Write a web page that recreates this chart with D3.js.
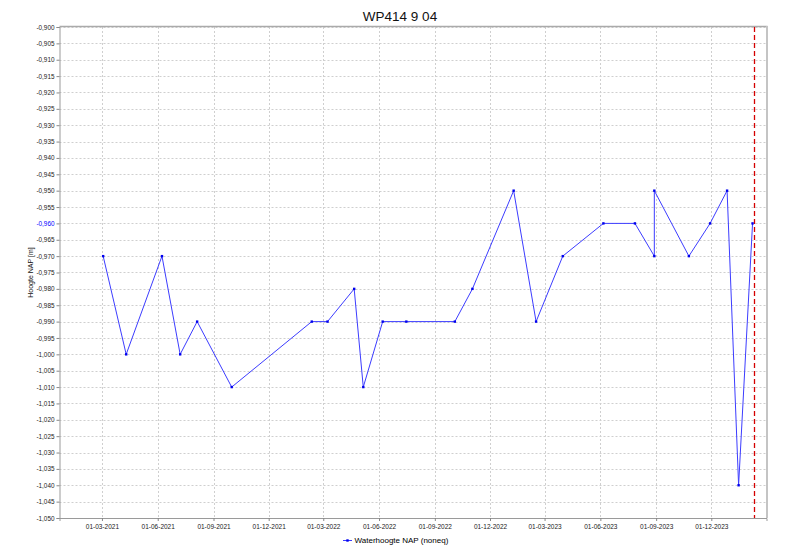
<!DOCTYPE html>
<html><head><meta charset="utf-8">
<script src="https://cdn.jsdelivr.net/npm/d3@7"></script>
<style>body{margin:0;background:#fff}svg{display:block}text{font-family:"Liberation Sans",Arial,sans-serif}</style>
</head><body>
<script>
const dates = ["2021-03-03","2021-04-10","2021-06-08","2021-07-08","2021-08-05","2021-10-01","2022-02-10","2022-03-08","2022-04-21","2022-05-06","2022-06-07","2022-07-16","2022-10-04","2022-11-02","2023-01-09","2023-02-15","2023-03-31","2023-06-06","2023-07-28","2023-08-29","2023-08-29","2023-10-25","2023-11-29","2023-12-27","2024-01-15","2024-02-07"];
const values = [-0.970,-1.000,-0.970,-1.000,-0.990,-1.010,-0.990,-0.990,-0.980,-1.010,-0.990,-0.990,-0.990,-0.980,-0.950,-0.990,-0.970,-0.960,-0.960,-0.970,-0.950,-0.970,-0.960,-0.950,-1.040,-0.960];
const xTickDates = ["2021-03-01","2021-06-01","2021-09-01","2021-12-01","2022-03-01","2022-06-01","2022-09-01","2022-12-01","2023-03-01","2023-06-01","2023-09-01","2023-12-01"];
const xTickLabels = ["01-03-2021","01-06-2021","01-09-2021","01-12-2021","01-03-2022","01-06-2022","01-09-2022","01-12-2022","01-03-2023","01-06-2023","01-09-2023","01-12-2023"];
const yDomain = [-1.050, -0.900];
const xDomain = ["2020-12-21","2024-03-01"];
const markerDate = "2024-02-09";
const highlightY = -0.960;
const title = "WP414 9 04";
const yLabel = "Hoogte NAP [m]";
const seriesName = "Waterhoogte NAP (noneq)";

const W = 811, H = 547;
const L = 59.5, R = 766.5, T = 27, B = 518;
const parse = d3.utcParse("%Y-%m-%d");
const svg = d3.select("body").append("svg").attr("width", W).attr("height", H);

const x = d3.scaleUtc().domain(xDomain.map(parse)).range([L, R]);
const y = d3.scaleLinear().domain(yDomain).range([B, T]);

const yTicks = d3.range(0, 31).map(i => +(yDomain[0] + i * 0.005).toFixed(3));
const fmt = v => d3.format(".3f")(v).replace("−", "-").replace(".", ",");

// grid
svg.append("g").selectAll("line").data(yTicks.slice(1)).join("line")
  .attr("x1", L).attr("x2", R).attr("y1", d => Math.round(y(d)) + 0.5).attr("y2", d => Math.round(y(d)) + 0.5)
  .attr("stroke", "#cfcfcf").attr("stroke-dasharray", "2,2");
svg.append("g").selectAll("line").data(xTickDates).join("line")
  .attr("x1", d => Math.round(x(parse(d))) + 0.5).attr("x2", d => Math.round(x(parse(d))) + 0.5)
  .attr("y1", T).attr("y2", B)
  .attr("stroke", "#cfcfcf").attr("stroke-dasharray", "2,2");

// y axis
const yAxis = d3.axisLeft(y).tickValues(yTicks).tickFormat(fmt).tickSize(3).tickPadding(2);
const gy = svg.append("g").attr("transform", `translate(${L},0)`).call(yAxis);
gy.select(".domain").attr("stroke", "#9a9a9a");
gy.selectAll(".tick line").attr("stroke", "#888");
gy.selectAll("text").attr("font-size", "6.4px").attr("fill", d => Math.abs(d - highlightY) < 1e-6 ? "#0000ff" : "#222");

// x axis
const xAxis = d3.axisBottom(x).tickValues(xTickDates.map(parse)).tickFormat((d, i) => xTickLabels[i]).tickSize(3).tickPadding(3);
const gx = svg.append("g").attr("transform", `translate(0,${B})`).call(xAxis);
gx.select(".domain").attr("stroke", "#9a9a9a");
gx.selectAll(".tick line").attr("stroke", "#888");
gx.selectAll("text").attr("font-size", "6.5px").attr("fill", "#222");

// frame top/right
svg.append("line").attr("x1", L).attr("x2", R + 1).attr("y1", T - 0.5).attr("y2", T - 0.5).attr("stroke", "#aaa").attr("stroke-width", 1.5);
svg.append("line").attr("x1", R + 0.5).attr("x2", R + 0.5).attr("y1", T - 1).attr("y2", B).attr("stroke", "#c4c4c4").attr("stroke-width", 2);

// red marker line
svg.append("line").attr("x1", Math.round(x(parse(markerDate))) + 0.5).attr("x2", Math.round(x(parse(markerDate))) + 0.5)
  .attr("y1", T).attr("y2", B).attr("stroke", "#d40000").attr("stroke-width", 1.3).attr("stroke-dasharray", "5,3");

// series
const data = dates.map((d, i) => ({ d: parse(d), v: values[i] }));
svg.append("path").datum(data)
  .attr("d", d3.line().x(p => x(p.d)).y(p => y(p.v)))
  .attr("fill", "none").attr("stroke", "#3c3cff").attr("stroke-width", 1);
svg.append("g").selectAll("rect").data(data).join("rect")
  .attr("x", p => x(p.d) - 1.2).attr("y", p => y(p.v) - 1.2).attr("width", 2.4).attr("height", 2.4).attr("fill", "#0000ee");

// title
svg.append("text").attr("x", 400).attr("y", 21).attr("text-anchor", "middle").attr("font-size", "13.5px").attr("fill", "#111").text(title);

// y label
svg.append("text").attr("transform", `translate(33,${(T + B) / 2}) rotate(-90)`).attr("text-anchor", "middle")
  .attr("font-size", "7px").attr("fill", "#111").text(yLabel);

// legend
const lg = svg.append("g").attr("transform", "translate(343,540)");
lg.append("line").attr("x1", 0).attr("x2", 9).attr("y1", 0.5).attr("y2", 0.5).attr("stroke", "#3c3cff");
lg.append("rect").attr("x", 3.3).attr("y", -0.7).attr("width", 2.4).attr("height", 2.4).attr("fill", "#0000ee");
lg.append("text").attr("x", 11.5).attr("y", 3).attr("font-size", "8px").attr("fill", "#000").text(seriesName);
</script>
</body></html>
